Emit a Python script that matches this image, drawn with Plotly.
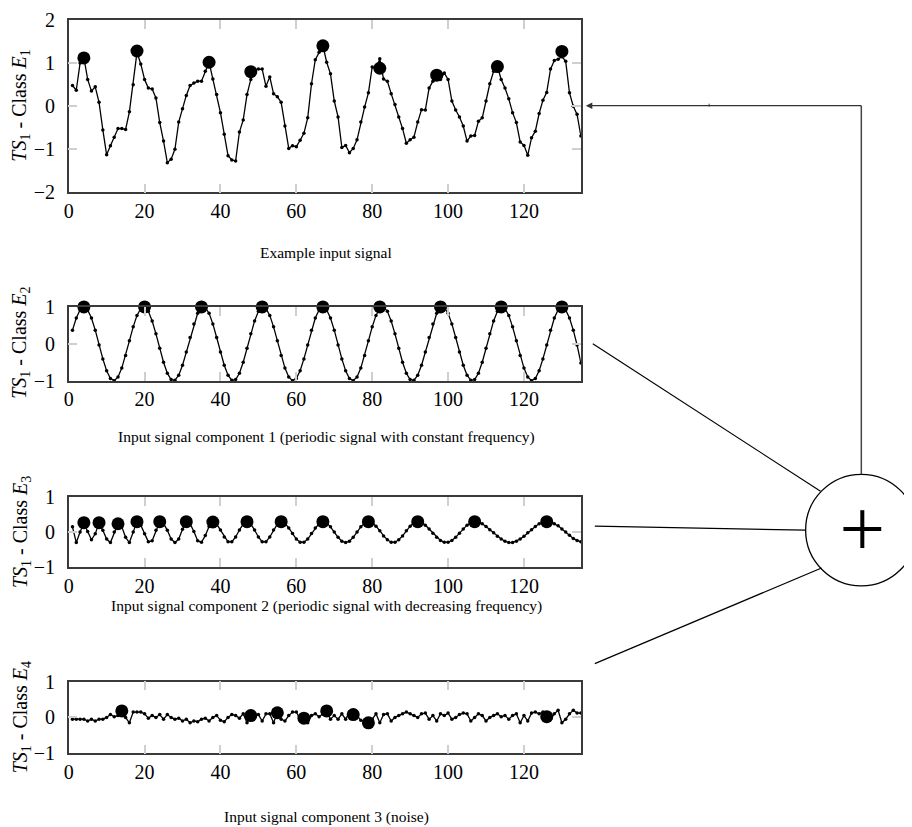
import plotly.graph_objects as go

W, H = 912, 827

x_vals = list(range(1, 136))

e1 = [0.48, 0.37, 1.00, 1.13, 0.62, 0.35, 0.45, 0.09, -0.55, -1.13,
      -0.92, -0.72, -0.52, -0.52, -0.54, -0.13, 0.50, 1.25, 0.98, 0.62,
      0.42, 0.40, 0.19, -0.38, -0.81, -1.31, -1.23, -1.00, -0.37, -0.06,
      0.25, 0.48, 0.54, 0.58, 0.58, 0.81, 1.02, 0.63, 0.27, -0.15,
      -0.65, -1.15, -1.25, -1.27, -0.60, -0.32, 0.27, 0.62, 0.85, 0.86,
      0.86, 0.46, 0.68, 0.29, 0.22, 0.09, -0.46, -0.98, -0.92, -0.94,
      -0.79, -0.63, -0.27, 0.52, 1.08, 1.25, 1.41, 1.02, 0.75, 0.12,
      -0.25, -0.96, -0.91, -1.08, -0.98, -0.78, -0.37, -0.02, 0.31, 0.91,
      0.86, 1.10, 0.63, 0.58, 0.29, 0.04, -0.25, -0.52, -0.86, -0.78,
      -0.72, -0.37, -0.08, -0.09, 0.42, 0.58, 0.68, 0.62, 0.77, 0.62,
      0.12, -0.09, -0.25, -0.46, -0.81, -0.69, -0.68, -0.35, -0.27, 0.12,
      0.52, 0.81, 0.92, 0.62, 0.42, 0.17, -0.15, -0.38, -0.83, -0.91,
      -1.14, -0.73, -0.58, -0.17, 0.14, 0.32, 0.86, 1.06, 1.09, 1.15,
      1.04, 0.31, 0.00, -0.19, -0.69]
e1_peak_x = [4, 18, 37, 48, 67, 82, 97, 113, 130]
e1_peak_y = [1.12, 1.28, 1.02, 0.80, 1.40, 0.88, 0.72, 0.92, 1.27]

e2 = [0.37, 0.70, 0.92, 1.00, 0.92, 0.70, 0.37, -0.03, -0.41,
      -0.73, -0.94, -1.00, -0.90, -0.66, -0.32, 0.08, 0.46, 0.77, 0.96,
      1.00, 0.88, 0.62, 0.27, -0.12, -0.50, -0.80, -0.97, -0.99, -0.85,
      -0.58, -0.22, 0.17, 0.54, 0.83, 0.98, 0.98, 0.83, 0.54, 0.17,
      -0.22, -0.58, -0.85, -0.99, -0.97, -0.80, -0.50, -0.12, 0.27, 0.62,
      0.88, 1.00, 0.96, 0.77, 0.46, 0.08, -0.32, -0.66, -0.90, -1.00,
      -0.94, -0.73, -0.41, -0.03, 0.37, 0.70, 0.92,
      1.00,
      0.92, 0.70, 0.37, -0.03, -0.41, -0.73, -0.94, -1.00, -0.90,
      -0.66, -0.32, 0.08, 0.46, 0.77, 0.96,
      1.00, 0.88, 0.62, 0.27, -0.12, -0.50, -0.80, -0.97, -0.99, -0.85,
      -0.58, -0.22, 0.17, 0.54, 0.83, 0.98, 0.98, 0.83, 0.54, 0.17,
      -0.22, -0.58, -0.85, -0.99, -0.97, -0.80, -0.50, -0.12, 0.27, 0.62,
      0.88, 1.00, 0.96, 0.77, 0.46, 0.08, -0.32, -0.66, -0.90, -1.00,
      -0.94, -0.73, -0.41, -0.03, 0.37, 0.70, 0.92,
      1.00,
      0.92, 0.70, 0.37, -0.03, -0.52]
e2_peak_x = [4, 20, 35, 51, 67, 82, 98, 114, 130]
e2_peak_y = [1.0, 1.0, 1.0, 1.0, 1.0, 1.0, 1.0, 1.0, 1.0]

e3 = [0.15, -0.30, 0.00, 0.27, 0.02, -0.22, -0.05, 0.27, 0.05, -0.20,
      -0.30, 0.00, 0.24, 0.15, -0.15, -0.30, 0.00, 0.30, 0.20, -0.05,
      -0.28, -0.25, 0.05, 0.30, 0.25, 0.05, -0.20, -0.30, -0.20, 0.08,
      0.30, 0.24, 0.02, -0.25, -0.29, -0.10, 0.16, 0.30, 0.23, 0.06,
      -0.14, -0.28, -0.28, -0.14, 0.06, 0.23, 0.30, 0.23, 0.06, -0.14,
      -0.28, -0.28, -0.14, 0.06, 0.23, 0.30, 0.25, 0.12, -0.04, -0.20,
      -0.29, -0.29, -0.20, -0.04, 0.12, 0.25, 0.30, 0.26, 0.15, 0.00,
      -0.15, -0.26, -0.30, -0.26, -0.15, 0.00, 0.15, 0.26, 0.30, 0.27,
      0.17, 0.04, -0.11, -0.22, -0.29, -0.29, -0.22, -0.11, 0.04, 0.17,
      0.27, 0.30, 0.27, 0.20, 0.09, -0.03, -0.15, -0.24, -0.29, -0.29,
      -0.24, -0.15, -0.03, 0.09, 0.20, 0.27, 0.30, 0.28, 0.24, 0.16,
      0.07, -0.02, -0.12, -0.20, -0.26, -0.30, -0.30, -0.26, -0.20, -0.12,
      -0.02, 0.07, 0.16, 0.24, 0.28, 0.30, 0.29, 0.24, 0.18, 0.09,
      0.00, -0.09, -0.18, -0.24, -0.28]
e3_peak_x = [4, 8, 13, 18, 24, 31, 38, 47, 56, 67, 79, 92, 107, 126]
e3_peak_y = [0.27, 0.27, 0.24, 0.30, 0.30, 0.30, 0.29, 0.30, 0.30, 0.30, 0.30, 0.30, 0.30, 0.30]

e4 = [-0.05, -0.05, -0.05, -0.05, -0.10, -0.05, -0.10, -0.05, -0.05, 0.00,
      0.08, 0.02, 0.05, 0.18, 0.00, -0.15, 0.15, 0.15, 0.15, 0.10,
      -0.02, 0.05, 0.00, 0.08, -0.05, 0.08, 0.00, -0.05, -0.02, -0.10,
      -0.05, -0.15, -0.10, -0.12, -0.05, -0.02, -0.10, 0.00, 0.05, -0.08,
      -0.12, 0.00, 0.08, 0.05, -0.02, 0.10, -0.15, 0.05, 0.05, 0.08,
      -0.10, 0.10, 0.10, -0.15, 0.13, -0.05, -0.10, 0.05, 0.15, 0.15,
      -0.05, -0.02, -0.15, 0.05, 0.10, 0.02, 0.10, 0.18, -0.05, 0.05,
      -0.05, 0.10, -0.05, 0.15, 0.08, 0.05, -0.08, -0.10, -0.15, -0.05,
      0.10, -0.15, 0.08, 0.10, -0.10, 0.00, 0.05, 0.10, 0.15, 0.10,
      0.05, 0.00, 0.10, 0.12, -0.05, 0.05, -0.10, 0.10, 0.05, 0.12,
      -0.05, 0.00, 0.08, 0.12, 0.10, -0.10, 0.00, 0.10, 0.05, -0.10,
      0.00, 0.05, 0.10, 0.02, 0.05, -0.05, 0.05, 0.10, -0.15, 0.05,
      -0.10, 0.12, 0.15, 0.10, 0.15, 0.02, -0.05, 0.10, 0.20, -0.15,
      -0.05, 0.10, 0.20, 0.12, 0.12]
e4_peak_x = [14, 48, 55, 62, 68, 75, 79, 126]
e4_peak_y = [0.18, 0.05, 0.13, -0.02, 0.18, 0.08, -0.15, 0.02]

x_ticks = [0, 20, 40, 60, 80, 100, 120]
panel_titles = ["<i>TS</i><sub>1</sub> - Class <i>E</i><sub>1</sub>",
                "<i>TS</i><sub>1</sub> - Class <i>E</i><sub>2</sub>",
                "<i>TS</i><sub>1</sub> - Class <i>E</i><sub>3</sub>",
                "<i>TS</i><sub>1</sub> - Class <i>E</i><sub>4</sub>"]
captions = ["Example input signal",
            "Input signal component 1 (periodic signal with constant frequency)",
            "Input signal component 2 (periodic signal with decreasing frequency)",
            "Input signal component 3 (noise)"]

series = [e1, e2, e3, e4]
peaks = [(e1_peak_x, e1_peak_y), (e2_peak_x, e2_peak_y),
         (e3_peak_x, e3_peak_y), (e4_peak_x, e4_peak_y)]

# target pixel layout (top, bottom) of each panel
panel_px = [(17, 190), (305, 379), (496, 566), (681, 753)]
y_ranges = [[-2, 2], [-1, 1], [-1, 1], [-1, 1]]
y_ticks = [[-2, -1, 0, 1, 2], [-1, 0, 1], [-1, 0, 1], [-1, 0, 1]]
caption_y = [250, 436, 605, 817]
title_y = [103, 341, 531, 717]
x_left, x_right = 66, 581

SERIF = "Liberation Serif, Times New Roman, serif"


def sx(x):
    return x - 10


def sy(y):
    return (y - 16) / 0.977


def px(x):
    return sx(x) / W


def py(y):
    return 1 - sy(y) / H


fig = go.Figure()
layout = dict(
    width=W, height=H,
    margin=dict(l=0, r=0, t=0, b=0),
    paper_bgcolor="white", plot_bgcolor="rgba(0,0,0,0)",
    showlegend=False,
    font=dict(family=SERIF, size=19, color="black"),
)

annotations = []
shapes = []
for i in range(4):
    sfx = "" if i == 0 else str(i + 1)
    xa, ya = "x" + sfx, "y" + sfx
    fig.add_trace(go.Scatter(
        x=x_vals, y=series[i], xaxis=xa, yaxis=ya, mode="lines+markers",
        line=dict(color="black", width=1.3),
        marker=dict(color="black", size=3.5), cliponaxis=False))
    fig.add_trace(go.Scatter(
        x=peaks[i][0], y=peaks[i][1], xaxis=xa, yaxis=ya, mode="markers",
        marker=dict(color="black", size=13), cliponaxis=False))
    top, bot = panel_px[i]
    common = dict(showline=True, mirror="allticks", linecolor="#3a3a3a", linewidth=1.5,
                  ticks="inside", ticklen=9, tickwidth=1.5, tickcolor="#cfcfcf",
                  showgrid=False, zeroline=False, fixedrange=True,
                  tickfont=dict(family=SERIF, size=20, color="black"))
    layout["xaxis" + sfx] = dict(domain=[px(x_left), px(x_right)], range=[0, 135],
                                 anchor=ya, tickvals=x_ticks, **common)
    layout["yaxis" + sfx] = dict(domain=[py(bot), py(top)], range=y_ranges[i],
                                 anchor=xa, tickvals=y_ticks[i], ticklabelstandoff=8,
                                 **common)
    annotations.append(dict(text=panel_titles[i], xref="paper", yref="paper",
                            x=px(18), y=py(title_y[i]), xanchor="center", yanchor="middle",
                            textangle=-90, showarrow=False,
                            font=dict(family=SERIF, size=20, color="black")))
    annotations.append(dict(text=captions[i], xref="paper", yref="paper",
                            x=px(325), y=py(caption_y[i]), xanchor="center", yanchor="middle",
                            showarrow=False, font=dict(family=SERIF, size=15.5, color="black")))

# summation diagram
cx, cy, r = 863, 529, 56
line_style = dict(color="black", width=1.2)
shapes.append(dict(type="circle", xref="paper", yref="paper",
                   x0=px(cx - r), x1=px(cx + r), y0=py(cy + r), y1=py(cy - r),
                   line=dict(color="black", width=1.3), fillcolor="white", layer="above"))
shapes.append(dict(type="line", xref="paper", yref="paper",
                   x0=px(845), x1=px(883), y0=py(528), y1=py(528),
                   line=dict(color="black", width=4)))
shapes.append(dict(type="line", xref="paper", yref="paper",
                   x0=px(864), x1=px(864), y0=py(509), y1=py(547),
                   line=dict(color="black", width=4)))
shapes.append(dict(type="line", xref="paper", yref="paper",
                   x0=px(cx), x1=px(cx), y0=py(cy - r), y1=py(103),
                   line=dict(color="#444", width=1.5)))
shapes.append(dict(type="line", xref="paper", yref="paper",
                   x0=px(710), x1=px(710), y0=py(101), y1=py(104),
                   line=dict(color="#444", width=1)))
shapes.append(dict(type="line", xref="paper", yref="paper",
                   x0=px(593), x1=px(822), y0=py(342), y1=py(490), line=line_style))
shapes.append(dict(type="line", xref="paper", yref="paper",
                   x0=px(595), x1=px(807), y0=py(525), y1=py(529), line=line_style))
shapes.append(dict(type="line", xref="paper", yref="paper",
                   x0=px(595), x1=px(823), y0=py(663), y1=py(567), line=line_style))
annotations.append(dict(x=px(586), y=py(103), xref="paper", yref="paper", text="",
                        showarrow=True, ax=cx - 586, ay=0, axref="pixel", ayref="pixel",
                        arrowhead=2, arrowsize=1, arrowwidth=1.3, arrowcolor="#333",
                        standoff=0))

layout["annotations"] = annotations
layout["shapes"] = shapes
fig.update_layout(**layout)
fig.write_html("out.html")
